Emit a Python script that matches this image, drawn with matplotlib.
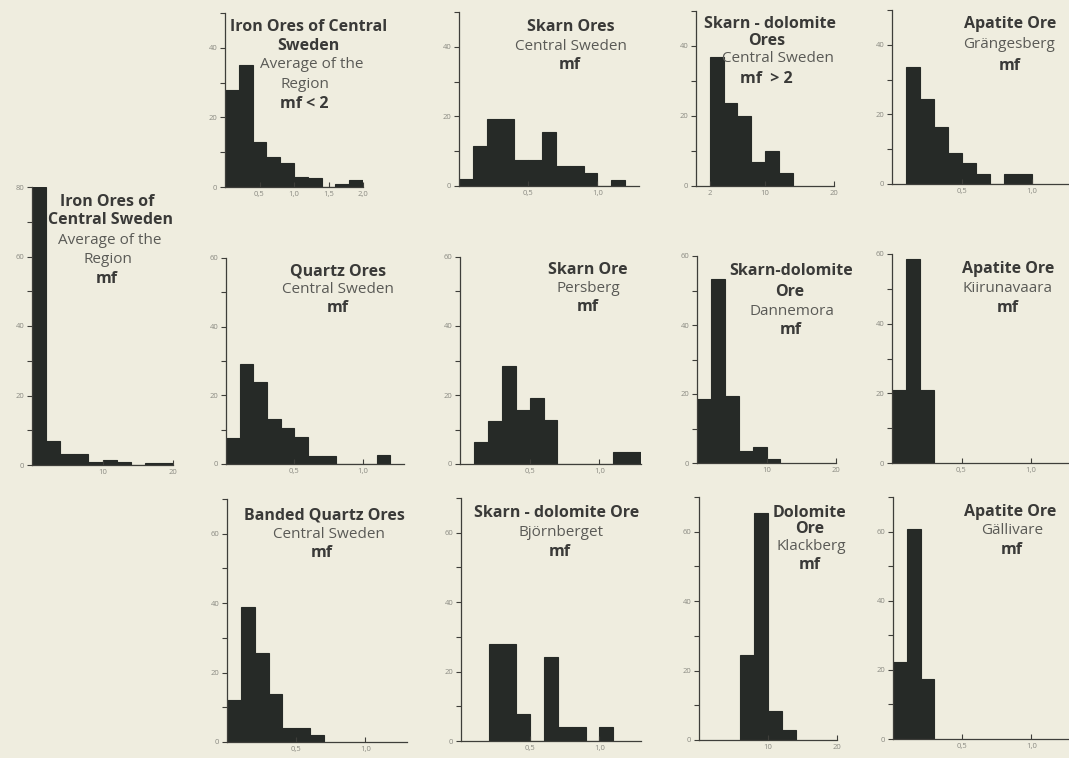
import matplotlib
matplotlib.use("Agg")
import matplotlib.pyplot as plt
from matplotlib.ticker import FixedLocator, NullFormatter

W, H = 1069, 758

# ---------------- data ----------------
iron_all_bins = [0, 2, 4, 6, 8, 10, 12, 14, 16, 18]
iron_all_counts = [80, 7, 3.2, 3.2, 1.0, 1.5, 1.0, 0, 0.5, 0.5]

iron_lt2_bins = [0.0, 0.2, 0.4, 0.6, 0.8, 1.0, 1.2, 1.4, 1.6, 1.8]
iron_lt2_counts = [28, 35, 13, 8.5, 7, 3, 2.5, 0, 1, 2]

skarn_cs_bins = [0.0, 0.1, 0.2, 0.3, 0.4, 0.5, 0.6, 0.7, 0.8, 0.9, 1.0, 1.1]
skarn_cs_counts = [2, 11.5, 19.3, 19.3, 7.6, 7.6, 15.5, 5.8, 5.8, 3.8, 0, 1.8]

skdol_cs_bins = [2, 4, 6, 8, 10, 12]
skdol_cs_counts = [37, 23.6, 20, 6.8, 10.1, 3.6]

apatite_gr_bins = [0.1, 0.2, 0.3, 0.4, 0.5, 0.6, 0.7, 0.8, 0.9]
apatite_gr_counts = [33.5, 24.4, 16.3, 9, 6.1, 3, 0, 3, 3]

quartz_bins = [0.0, 0.1, 0.2, 0.3, 0.4, 0.5, 0.6, 0.7, 0.8, 0.9, 1.0, 1.1]
quartz_counts = [7.7, 29, 23.8, 13.1, 10.4, 7.8, 2.4, 2.4, 0, 0, 0, 2.6]

persberg_bins = [0.1, 0.2, 0.3, 0.4, 0.5, 0.6, 0.7, 0.8, 0.9, 1.0, 1.1, 1.2]
persberg_counts = [6.3, 12.6, 28.4, 15.7, 19, 12.8, 0, 0, 0, 0, 3.4, 3.4]

dannemora_bins = [0, 2, 4, 6, 8, 10]
dannemora_counts = [18.6, 53.4, 19.5, 3.4, 4.5, 1.2]

kiruna_bins = [0.0, 0.1, 0.2]
kiruna_counts = [21, 58.5, 21]

banded_bins = [0.0, 0.1, 0.2, 0.3, 0.4, 0.5, 0.6]
banded_counts = [12, 39, 25.7, 13.8, 4, 4, 2.1]

bjorn_bins = [0.2, 0.3, 0.4, 0.5, 0.6, 0.7, 0.8, 0.9, 1.0]
bjorn_counts = [28, 28, 7.9, 0, 24.2, 4.1, 4.1, 0, 4.1]

klack_bins = [6, 8, 10, 12]
klack_counts = [24.4, 65.5, 8.3, 2.9]

galli_bins = [0.0, 0.1, 0.2]
galli_counts = [22.4, 60.6, 17.3]

xt_frac = [0.5, 1.0]
xt_frac_lbl = ["0,5", "1,0"]
xt_frac2 = [0.5, 1.0, 1.5, 2.0]
xt_frac2_lbl = ["0,5", "1,0", "1,5", "2,0"]
xt_mf = [10, 20]
xt_mf_lbl = ["10", "20"]
xt_mf2 = [2, 10, 20]
xt_mf2_lbl = ["2", "10", "20"]

# ---------------- style ----------------
BG = "#efeddf"
BAR = "#262a27"
AX = "#3e3e3a"
TICKLBL = "#8a8a82"
TXT_B = "#3a3a38"
TXT_R = "#5a5a56"
FONT = ["Open Sans", "DejaVu Sans"]

fig = plt.figure(figsize=(W / 100, H / 100), dpi=100, facecolor=BG)


def panel(px0, px1, pyb, pyt, xlim, ylim, bins, counts, width,
          xticks, xlabels, ymajor, yminor):
    ax = fig.add_axes([px0 / W, 1 - pyb / H, (px1 - px0) / W, (pyb - pyt) / H])
    ax.set_facecolor("none")
    ax.bar(bins, counts, width=width, align="edge", color=BAR,
           edgecolor=BAR, linewidth=0.8)
    ax.set_xlim(*xlim)
    ax.set_ylim(*ylim)
    for s in ("top", "right"):
        ax.spines[s].set_visible(False)
    for s in ("left", "bottom"):
        ax.spines[s].set_color(AX)
        ax.spines[s].set_linewidth(0.9)
    ax.set_xticks(xticks)
    ax.set_xticklabels(xlabels)
    ax.set_yticks(ymajor)
    ax.set_yticklabels([str(v) for v in ymajor])
    ax.yaxis.set_minor_locator(FixedLocator(yminor))
    ax.yaxis.set_minor_formatter(NullFormatter())
    ax.tick_params(axis="y", which="both", direction="out", length=3.5,
                   width=0.8, color=AX, labelsize=5.5, labelcolor=TICKLBL, pad=2)
    ax.tick_params(axis="x", which="both", direction="in", length=3.5,
                   width=0.8, color=AX, labelsize=5.5, labelcolor=TICKLBL, pad=3)
    for lbl in ax.get_xticklabels() + ax.get_yticklabels():
        lbl.set_family(FONT)
    return ax


# left tall panel
panel(32, 173, 465, 187, (0, 20), (0, 80), iron_all_bins, iron_all_counts, 2,
      xt_mf, xt_mf_lbl, [0, 20, 40, 60, 80], [10, 30, 50, 70])
# row 1
panel(225, 363, 187, 13, (0, 2.0), (0, 50), iron_lt2_bins, iron_lt2_counts, 0.2,
      xt_frac2, xt_frac2_lbl, [0, 20, 40], [10, 30, 50])
panel(459, 639, 186, 12, (0, 1.3), (0, 50), skarn_cs_bins, skarn_cs_counts, 0.1,
      xt_frac, xt_frac_lbl, [0, 20, 40], [10, 30, 50])
panel(696, 834, 186, 11, (0, 20), (0, 50), skdol_cs_bins, skdol_cs_counts, 2,
      xt_mf2, xt_mf2_lbl, [0, 20, 40], [10, 30, 50])
panel(892, 1069, 184, 10, (0, 177 / 140), (0, 50), apatite_gr_bins, apatite_gr_counts, 0.1,
      xt_frac, xt_frac_lbl, [0, 20, 40], [10, 30, 50])
# row 2
panel(226, 404, 464, 258, (0, 1.3), (0, 60), quartz_bins, quartz_counts, 0.1,
      xt_frac, xt_frac_lbl, [0, 20, 40, 60], [10, 30, 50])
panel(460, 641, 464, 257, (0, 1.3), (0, 60), persberg_bins, persberg_counts, 0.1,
      xt_frac, xt_frac_lbl, [0, 20, 40, 60], [10, 30, 50])
panel(697, 836, 463, 256, (0, 20), (0, 60), dannemora_bins, dannemora_counts, 2,
      xt_mf, xt_mf_lbl, [0, 20, 40, 60], [10, 30, 50])
panel(892, 1069, 463, 254, (0, 177 / 139), (0, 60), kiruna_bins, kiruna_counts, 0.1,
      xt_frac, xt_frac_lbl, [0, 20, 40, 60], [10, 30, 50])
# row 3
panel(227, 407, 742, 499, (0, 1.3), (0, 70), banded_bins, banded_counts, 0.1,
      xt_frac, xt_frac_lbl, [0, 20, 40, 60], [10, 30, 50, 70])
panel(461, 641, 741, 498, (0, 1.3), (0, 70), bjorn_bins, bjorn_counts, 0.1,
      xt_frac, xt_frac_lbl, [0, 20, 40, 60], [10, 30, 50, 70])
panel(699, 837, 740, 497, (0, 20), (0, 70), klack_bins, klack_counts, 2,
      xt_mf, xt_mf_lbl, [0, 20, 40, 60], [10, 30, 50, 70])
panel(893, 1069, 739, 497, (0, 176 / 138.3), (0, 70), galli_bins, galli_counts, 0.1,
      xt_frac, xt_frac_lbl, [0, 20, 40, 60], [10, 30, 50, 70])

# ---------------- panel titles ----------------
titles = [
    (107, 202, "Iron Ores of", True), (110, 220, "Central Sweden", True),
    (110, 240, "Average of the", False), (108, 260, "Region", False), (107, 279, "mf", True),

    (309, 27, "Iron Ores of Central", True), (308, 46, "Sweden", True),
    (312, 64, "Average of the", False), (305, 84, "Region", False), (304, 104, "mf < 2", True),

    (571, 27, "Skarn Ores", True), (571, 46, "Central Sweden", False), (570, 65, "mf", True),

    (770, 24, "Skarn - dolomite", True), (767, 41, "Ores", True),
    (778, 58, "Central Sweden", False), (766, 79, "mf  > 2", True),

    (1010, 24, "Apatite Ore", True), (1009, 45, "Grängesberg", False), (1010, 66, "mf", True),

    (338, 271, "Quartz Ores", True), (338, 290, "Central Sweden", False), (338, 308, "mf", True),

    (588, 270, "Skarn Ore", True), (588, 289, "Persberg", False), (588, 307, "mf", True),

    (791, 271, "Skarn-dolomite", True), (790, 292, "Ore", True),
    (792, 311, "Dannemora", False), (791, 330, "mf", True),

    (1008, 269, "Apatite Ore", True), (1007, 289, "Kiirunavaara", False), (1008, 308, "mf", True),

    (324, 515, "Banded Quartz Ores", True), (329, 534, "Central Sweden", False), (322, 553, "mf", True),

    (557, 513, "Skarn - dolomite Ore", True), (561, 532, "Björnberget", False), (560, 552, "mf", True),

    (810, 513, "Dolomite", True), (810, 529, "Ore", True),
    (811, 547, "Klackberg", False), (810, 565, "mf", True),

    (1010, 512, "Apatite Ore", True), (1012, 530, "Gällivare", False), (1012, 550, "mf", True),
]
for x, y, s, bold in titles:
    fig.text(x / W, 1 - y / H, s, ha="center", va="center",
             fontsize=11.5 if bold else 11, family=FONT,
             fontweight="bold" if bold else "normal",
             color=TXT_B if bold else TXT_R)

fig.savefig("out.png", dpi=100, facecolor=BG)
